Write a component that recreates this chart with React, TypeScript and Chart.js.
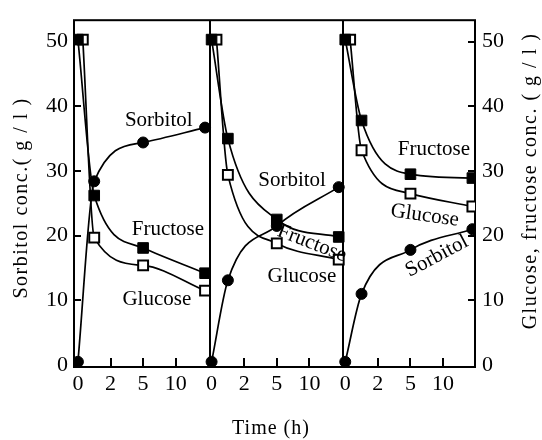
import React, { useEffect, useRef } from 'react';
import { Chart, registerables } from 'chart.js';

Chart.register(...registerables);

// ---- data ----
const HOUR_KNOTS = [0, 2, 5, 10, 20];
const TICK_HOURS = [0, 2, 5, 10];
const TICK_LABELS = ['0', '2', '5', '10'];
const Y_TICKS = [0, 10, 20, 30, 40, 50];

const TIME_H = [0, 1, 5, 19];
const GLUCOSE_TIME_H = [0.3, 1, 5, 19];

const SORBITOL_A = [0.5, 28.4, 34.4, 36.7];
const FRUCTOSE_A = [50.3, 26.2, 18.1, 14.2];
const GLUCOSE_A = [50.3, 19.7, 15.4, 11.5];

const SORBITOL_B = [0.5, 13.1, 21.5, 27.5];
const FRUCTOSE_B = [50.3, 35.0, 22.5, 19.8];
const GLUCOSE_B = [50.3, 29.4, 18.8, 16.3];

const SORBITOL_C = [0.5, 11.0, 17.8, 21.0];
const FRUCTOSE_C = [50.3, 37.8, 29.5, 28.9];
const GLUCOSE_C = [50.3, 33.2, 26.5, 24.5];

const PANEL_SORBITOL = [SORBITOL_A, SORBITOL_B, SORBITOL_C];
const PANEL_FRUCTOSE = [FRUCTOSE_A, FRUCTOSE_B, FRUCTOSE_C];
const PANEL_GLUCOSE = [GLUCOSE_A, GLUCOSE_B, GLUCOSE_C];

// ---- layout ----
const PANEL_SPAN = 4.1;
const X_START = -0.12;
const FONT = "'Liberation Serif', 'Times New Roman', serif";

// annotation labels (panel, text, axis-unit x, value y, angle deg)
const NOTES = [
  { p: 0, text: 'Sorbitol', u: 2.48, v: 37.8, a: 0 },
  { p: 0, text: 'Fructose', u: 2.76, v: 20.9, a: 0 },
  { p: 0, text: 'Glucose', u: 2.42, v: 10.2, a: 0 },
  { p: 1, text: 'Sorbitol', u: 2.47, v: 28.5, a: 0 },
  { p: 1, text: 'Fructose', u: 3.08, v: 18.8, a: 21 },
  { p: 1, text: 'Glucose', u: 2.77, v: 13.7, a: 0 },
  { p: 2, text: 'Fructose', u: 2.72, v: 33.3, a: 0 },
  { p: 2, text: 'Glucose', u: 2.44, v: 23.1, a: 8 },
  { p: 2, text: 'Sorbitol', u: 2.81, v: 16.8, a: -28 },
];

function hoursToAxis(t: number): number {
  for (let i = 0; i < HOUR_KNOTS.length - 1; i++) {
    const a = HOUR_KNOTS[i];
    const b = HOUR_KNOTS[i + 1];
    if (t <= b || i === HOUR_KNOTS.length - 2) return i + (t - a) / (b - a);
  }
  return 0;
}

function panelX(p: number, t: number) {
  return p * PANEL_SPAN + hoursToAxis(t);
}

const framePlugin = {
  id: 'frame',
  beforeDatasetsDraw(chart: any) {
    const { ctx, chartArea: ca, scales } = chart;
    const xs = scales.x;
    const ys = scales.y;
    ctx.save();
    ctx.strokeStyle = '#000';
    ctx.lineWidth = 2;
    ctx.strokeRect(ca.left, ca.top, ca.right - ca.left, ca.bottom - ca.top);
    // panel dividers
    for (let k = 1; k < 3; k++) {
      const px = Math.round(xs.getPixelForValue(k * PANEL_SPAN - 0.06));
      ctx.beginPath();
      ctx.moveTo(px, ca.top);
      ctx.lineTo(px, ca.bottom);
      ctx.stroke();
    }
    // inner x ticks
    for (let k = 0; k < 3; k++) {
      for (let i = 1; i < TICK_HOURS.length; i++) {
        const px = Math.round(xs.getPixelForValue(panelX(k, TICK_HOURS[i])));
        ctx.beginPath();
        ctx.moveTo(px, ca.bottom);
        ctx.lineTo(px, ca.bottom - 9);
        ctx.stroke();
      }
    }
    // inner y ticks
    for (const v of Y_TICKS) {
      if (v === 0) continue;
      const py = Math.round(ys.getPixelForValue(v));
      ctx.beginPath();
      ctx.moveTo(ca.left, py);
      ctx.lineTo(ca.left + 7, py);
      ctx.moveTo(ca.right, py);
      ctx.lineTo(ca.right - 7, py);
      ctx.stroke();
    }
    ctx.restore();
  },
  afterDatasetsDraw(chart: any) {
    const { ctx, scales } = chart;
    const xs = scales.x;
    const ys = scales.y;
    ctx.save();
    ctx.fillStyle = '#000';
    ctx.textAlign = 'center';
    ctx.textBaseline = 'middle';
    ctx.font = `21px ${FONT}`;
    for (const n of NOTES) {
      const px = xs.getPixelForValue(n.p * PANEL_SPAN + n.u);
      const py = ys.getPixelForValue(n.v);
      ctx.save();
      ctx.translate(px, py);
      ctx.rotate((n.a * Math.PI) / 180);
      ctx.fillText(n.text, 0, 0);
      ctx.restore();
    }
    // axis titles
    ctx.font = `20px ${FONT}`;
    try { (ctx as any).letterSpacing = '1.5px'; } catch (e) {}
    ctx.save();
    ctx.translate(22, 198);
    ctx.rotate(-Math.PI / 2);
    ctx.fillText('Sorbitol conc.( g / l )', 0, 0);
    ctx.restore();
    ctx.save();
    ctx.translate(531, 181);
    ctx.rotate(-Math.PI / 2);
    ctx.fillText('Glucose, fructose conc. ( g / l )', 0, 0);
    ctx.restore();
    try { (ctx as any).letterSpacing = '1px'; } catch (e) {}
    ctx.fillText('Time (h)', 271, 429);
    try { (ctx as any).letterSpacing = '0px'; } catch (e) {}
    ctx.restore();
  },
};

function buildDatasets() {
  const sets: any[] = [];
  for (let p = 0; p < 3; p++) {
    sets.push({
      label: `Sorbitol ${p + 1}`,
      data: TIME_H.map((t, i) => ({ x: panelX(p, t), y: PANEL_SORBITOL[p][i] })),
      borderColor: '#000',
      backgroundColor: '#000',
      borderWidth: 1.7,
      pointStyle: 'circle',
      pointRadius: 5.5,
      pointBorderWidth: 1,
      pointBackgroundColor: '#000',
      pointBorderColor: '#000',
      cubicInterpolationMode: 'monotone',
      fill: false,
    });
    sets.push({
      label: `Fructose ${p + 1}`,
      data: TIME_H.map((t, i) => ({ x: panelX(p, t), y: PANEL_FRUCTOSE[p][i] })),
      borderColor: '#000',
      backgroundColor: '#000',
      borderWidth: 1.7,
      pointStyle: 'rect',
      pointRadius: 7.5,
      pointBorderWidth: 1,
      pointBackgroundColor: '#000',
      pointBorderColor: '#000',
      cubicInterpolationMode: 'monotone',
      fill: false,
    });
    sets.push({
      label: `Glucose ${p + 1}`,
      data: GLUCOSE_TIME_H.map((t, i) => ({ x: panelX(p, t), y: PANEL_GLUCOSE[p][i] })),
      borderColor: '#000',
      backgroundColor: '#fff',
      borderWidth: 1.7,
      pointStyle: 'rect',
      pointRadius: 7,
      pointBorderWidth: 2,
      pointBackgroundColor: '#fff',
      pointBorderColor: '#000',
      cubicInterpolationMode: 'monotone',
      fill: false,
    });
  }
  return sets;
}

export default function App() {
  const ref = useRef<HTMLCanvasElement | null>(null);

  useEffect(() => {
    if (!ref.current) return;
    const xTickValues: number[] = [];
    for (let p = 0; p < 3; p++) {
      for (const h of TICK_HOURS) xTickValues.push(panelX(p, h));
    }
    const tickFont = { family: FONT, size: 22 };
    const chart = new Chart(ref.current, {
      type: 'line',
      data: { datasets: buildDatasets() },
      plugins: [framePlugin],
      options: {
        animation: false,
        responsive: false,
        devicePixelRatio: 1,
        layout: { padding: { top: 10, left: 0, right: 0, bottom: 0 } },
        plugins: { legend: { display: false }, tooltip: { enabled: false } },
        scales: {
          x: {
            type: 'linear',
            min: X_START,
            max: X_START + 3 * PANEL_SPAN,
            grid: { display: false, drawTicks: false },
            border: { display: false },
            afterBuildTicks: (scale: any) => {
              scale.ticks = xTickValues.map((v) => ({ value: v }));
            },
            afterFit: (scale: any) => {
              scale.height = 73;
            },
            ticks: {
              autoSkip: false,
              maxRotation: 0,
              padding: 4,
              color: '#000',
              font: tickFont,
              callback: (_v: any, i: number) => TICK_LABELS[i % TICK_LABELS.length],
            },
          },
          y: {
            type: 'linear',
            position: 'left',
            min: -0.3,
            max: 53.3,
            grid: { display: false, drawTicks: false },
            border: { display: false },
            afterBuildTicks: (scale: any) => {
              scale.ticks = Y_TICKS.map((v) => ({ value: v }));
            },
            afterFit: (scale: any) => {
              scale.width = 74;
            },
            ticks: { padding: 6, color: '#000', font: tickFont },
          },
          yR: {
            type: 'linear',
            position: 'right',
            display: true,
            min: -0.3,
            max: 53.3,
            grid: { display: false, drawTicks: false },
            border: { display: false },
            afterBuildTicks: (scale: any) => {
              scale.ticks = Y_TICKS.map((v) => ({ value: v }));
            },
            afterFit: (scale: any) => {
              scale.width = 67;
            },
            ticks: { padding: 7, color: '#000', font: tickFont },
          },
        },
      } as any,
    });
    return () => chart.destroy();
  }, []);

  return (
    <div style={{ position: 'fixed', left: 0, top: 0, width: 542, height: 440, background: '#fff' }}>
      <canvas ref={ref} width={542} height={440} style={{ display: 'block' }} />
    </div>
  );
}
